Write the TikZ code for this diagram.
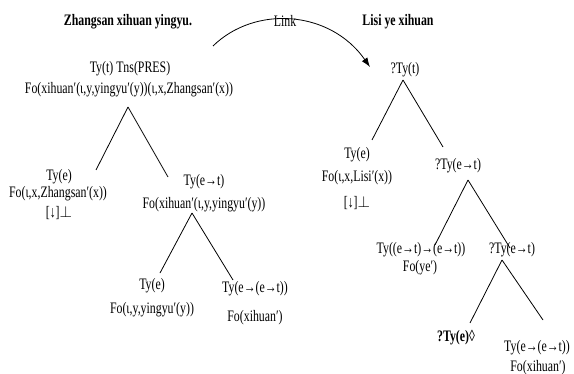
\documentclass[tikz,border=0pt]{standalone}
\usepackage{fontspec}
\setmainfont[FakeStretch=0.74]{Liberation Serif}
\usetikzlibrary{calc,arrows.meta}
\tikzset{
  lab/.style={inner sep=0pt, anchor=center, font=\fontsize{12}{14}\selectfont},
  ttl/.style={inner sep=0pt, anchor=center, font=\fontsize{12}{14}\selectfont\bfseries},
  br/.style={draw=black, line width=0.6pt},
  linkarrow/.style={draw=black, line width=0.6pt, -{Latex[length=7pt,width=5pt]}}
}
\begin{document}
\begin{tikzpicture}[x=0.75pt,y=-0.75pt]
\fill[white] (0,0) rectangle (574,374);
\useasboundingbox (0,0) rectangle (574,374);
% titles
\node[ttl] (t1) at (128,22) {Zhangsan xihuan yingyu.};
\node[ttl] (t2) at (398,22) {Lisi ye xihuan};
\node[lab] (link) at (285,21) {Link};
% left tree
\node[lab] (zty) at (130,69) {Ty(t) Tns(PRES)};
\node[lab] (zfo) at (129,90) {Fo(xihuan′(ι,y,yingyu′(y))(ι,x,Zhangsan′(x))};
\node[lab] (zlty) at (59,177) {Ty(e)};
\node[lab] (zlfo) at (58,194) {Fo(ι,x,Zhangsan′(x))};
\node[lab] (zlbot) at (59,213) {[↓]$\bot$};
\node[lab] (zrty) at (204,182) {Ty(e→t)};
\node[lab] (zrfo) at (204,205) {Fo(xihuan′(ι,y,yingyu′(y))};
\node[lab] (zslty) at (152,286) {Ty(e)};
\node[lab] (zslfo) at (152,310) {Fo(ι,y,yingyu′(y))};
\node[lab] (zsrty) at (255,289) {Ty(e→(e→t))};
\node[lab] (zsrfo) at (255,318) {Fo(xihuan′)};
% right tree
\node[lab] (lty) at (405,70) {?Ty(t)};
\node[lab] (llty) at (357,155) {Ty(e)};
\node[lab] (llfo) at (357,178) {Fo(ι,x,Lisi′(x))};
\node[lab] (llbot) at (357,203) {[↓]$\bot$};
\node[lab] (lrty) at (458,166) {?Ty(e→t)};
\node[lab] (lrlty) at (421,250) {Ty((e→t)→(e→t))};
\node[lab] (lrlfo) at (420,268) {Fo(ye′)};
\node[lab] (lrrty) at (512,250) {?Ty(e→t)};
\node[lab] (lrrl) at (456,338) {\textbf{?Ty(e)}◊};
\node[lab] (lrrrty) at (537,348) {Ty(e→(e→t))};
\node[lab] (lrrrfo) at (538,368) {Fo(xihuan′)};
% branches left tree
\draw[br] ($(zfo)+(-1,17)$) -- ($(zlty)+(37,-7)$);
\draw[br] ($(zfo)+(-1,17)$) -- ($(zrty)+(-36,-5)$);
\draw[br] ($(zrfo)+(-12,8)$) -- ($(zslty)+(8,-13)$);
\draw[br] ($(zrfo)+(-12,8)$) -- ($(zsrty)+(-22,-9)$);
% branches right tree
\draw[br] ($(lty)+(-2,10)$) -- ($(llty)+(15,-15)$);
\draw[br] ($(lty)+(-2,10)$) -- ($(lrty)+(-15,-19)$);
\draw[br] ($(lrty)+(10,14)$) -- ($(lrlty)+(14,-5)$);
\draw[br] ($(lrty)+(10,14)$) -- ($(lrrty)+(-2,-2)$);
\draw[br] ($(lrrty)+(-10,10)$) -- ($(lrrl)+(14,-15)$);
\draw[br] ($(lrrty)+(-10,10)$) -- ($(lrrrty)+(6,-28)$);
% link arrow
\coordinate (ls) at (213,46);
\draw[linkarrow] (ls) .. controls (255,5) and (330,10) .. ($(lty)+(-35,-3)$);
\end{tikzpicture}
\end{document}
